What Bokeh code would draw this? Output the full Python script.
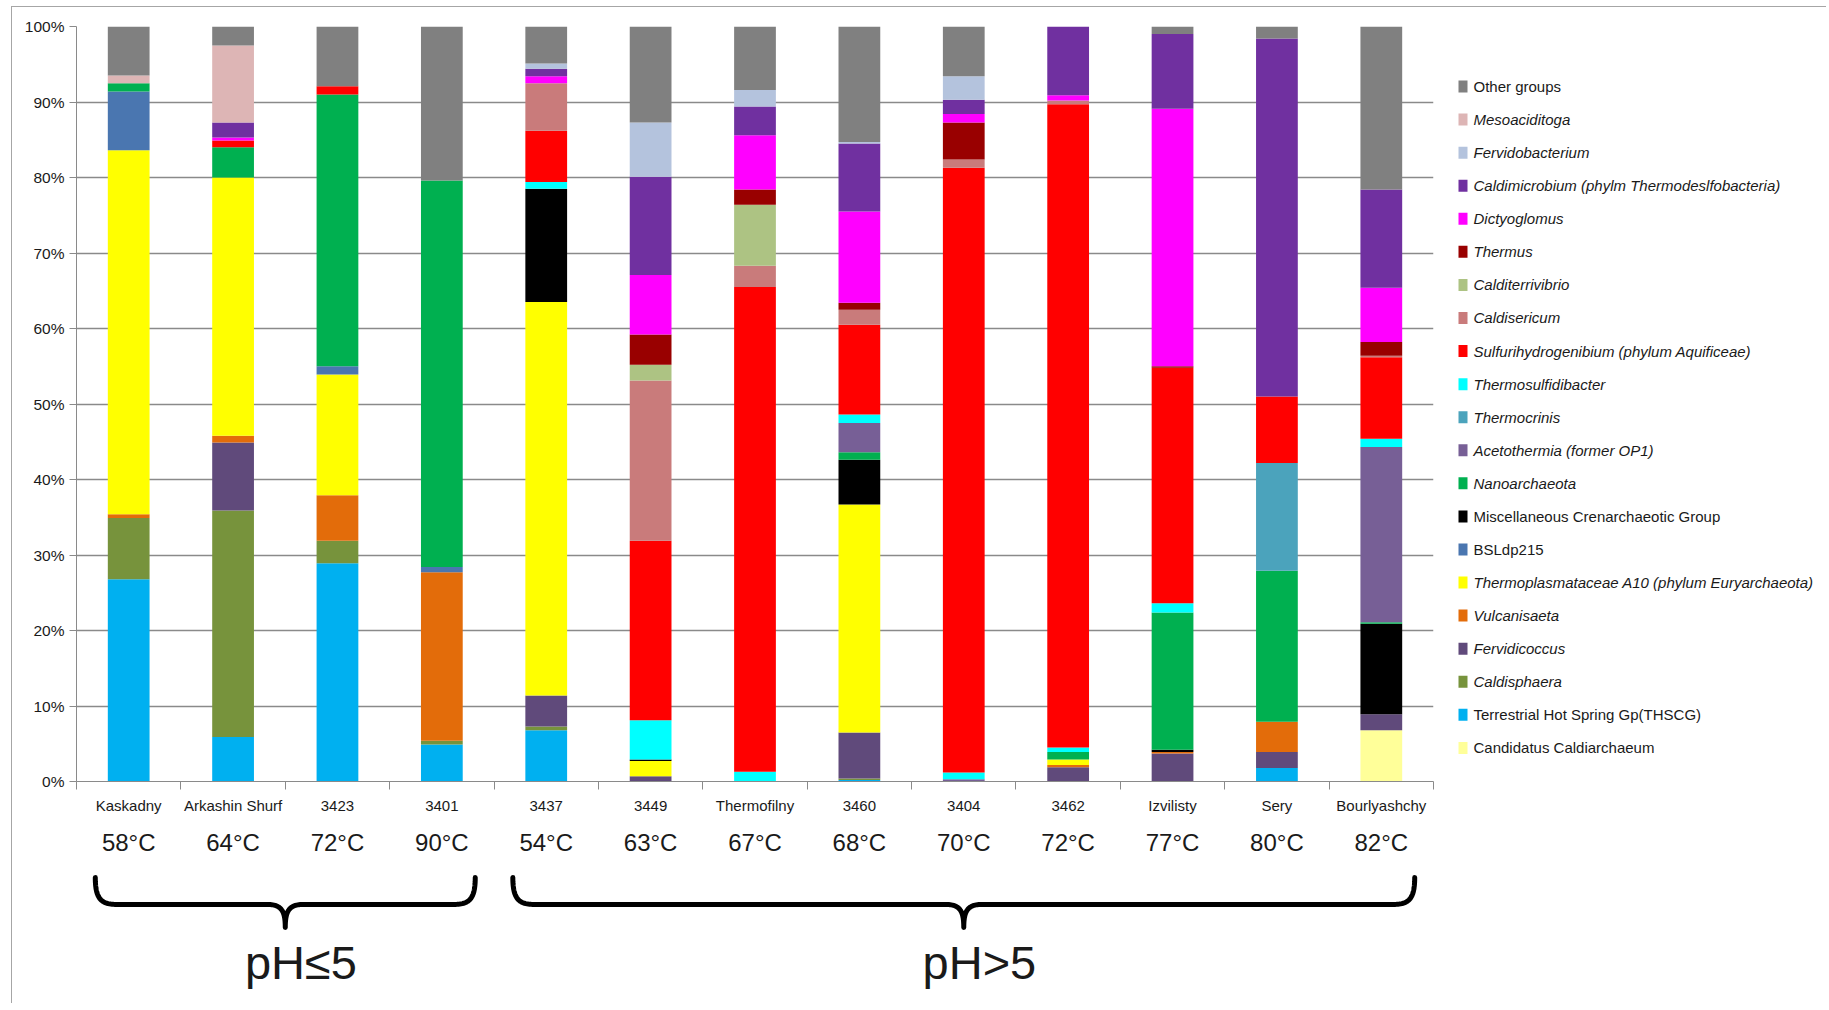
import numpy as np
from bokeh.plotting import figure
from bokeh.models import (Range1d, LinearAxis, FixedTicker,
                          PrintfTickFormatter, ColumnDataSource, Grid)
from bokeh.layouts import row, column
from bokeh.embed import file_html
from bokeh.resources import INLINE
from bokeh.core.properties import value

# ---------------- data ----------------
samples = ["Kaskadny", "Arkashin Shurf", "3423", "3401", "3437", "3449", "Thermofilny",
           "3460", "3404", "3462", "Izvilisty", "Sery", "Bourlyashchy"]
temps = ["58°C", "64°C", "72°C", "90°C", "54°C", "63°C", "67°C", "68°C", "70°C",
         "72°C", "77°C", "80°C", "82°C"]
groups = ["pH≤5", "pH>5"]
group_sizes = [4, 9]

candidatus = [0, 0, 0, 0, 0, 0, 0, 0, 0, 0, 0, 0, 6.8]
thscg = [26.8, 5.9, 28.9, 4.9, 6.8, 0, 0, 0.2, 0, 0, 0, 1.8, 0]
caldisphaera = [8.1, 30.0, 3.0, 0.5, 0.5, 0, 0, 0.2, 0, 0, 0, 0, 0]
fervidicoccus = [0, 9.0, 0, 0, 4.1, 0.7, 0, 6.1, 0, 1.9, 3.7, 2.1, 2.1]
vulcanisaeta = [0.5, 0.9, 6.0, 22.3, 0, 0, 0, 0, 0, 0.3, 0.2, 4.0, 0]
thermoplasma_a10 = [48.2, 34.2, 16.0, 0, 52.1, 2.0, 0, 30.2, 0, 0.7, 0, 0, 0]
bsldp215 = [7.8, 0, 1.1, 0.7, 0, 0, 0, 0, 0, 0, 0, 0, 0]
mcg = [0, 0, 0, 0, 15.0, 0.2, 0, 5.9, 0, 0, 0.3, 0, 12.0]
nanoarchaeota = [1.1, 4.0, 36.0, 51.2, 0, 0, 0, 1.0, 0, 1.0, 18.2, 20.0, 0.2]
acetothermia = [0, 0, 0, 0, 0, 0, 0, 3.9, 0.3, 0, 0, 0, 23.2]
thermocrinis = [0, 0, 0, 0, 0, 0, 0, 0, 0, 0, 0, 14.3, 0]
thermosulfidibacter = [0, 0, 0, 0, 0.9, 5.2, 1.3, 1.1, 0.9, 0.6, 1.2, 0, 1.1]
sulfurihydrogenibium = [0, 0.9, 1.1, 0, 6.8, 23.8, 64.2, 11.9, 80.1, 85.2, 31.2, 8.8, 10.8]
caldisericum = [0, 0, 0, 0, 6.3, 21.2, 2.8, 2.0, 1.1, 0.5, 0, 0, 0.2]
calditerrivibrio = [0, 0, 0, 0, 0, 2.1, 8.1, 0, 0, 0, 0, 0, 0]
thermus = [0, 0, 0, 0, 0, 4.0, 2.0, 0.9, 4.9, 0, 0.2, 0, 1.8]
dictyoglomus = [0, 0.4, 0, 0, 0.9, 7.9, 7.2, 12.1, 1.1, 0.7, 34.1, 0, 7.2]
caldimicrobium = [0, 2.0, 0, 0, 1.0, 13.0, 3.8, 9.0, 1.9, 9.1, 9.9, 47.4, 13.0]
fervidobacterium = [0, 0, 0, 0, 0.7, 7.2, 2.2, 0.2, 3.1, 0, 0, 0, 0]
mesoaciditoga = [1.0, 10.2, 0, 0, 0, 0, 0, 0, 0, 0, 0, 0, 0]
other_groups = [6.5, 2.5, 7.9, 20.4, 4.9, 12.7, 8.4, 15.3, 6.6, 0, 1.0, 1.6, 21.6]

# stacking order: bottom -> top  (label, values, colour, italic)
series = [
    ("Candidatus Caldiarchaeum", candidatus, "#FFFF99", False),
    ("Terrestrial Hot Spring Gp(THSCG)", thscg, "#00B0F0", False),
    ("Caldisphaera", caldisphaera, "#77933C", True),
    ("Fervidicoccus", fervidicoccus, "#604A7B", True),
    ("Vulcanisaeta", vulcanisaeta, "#E36C0A", True),
    ("Thermoplasmataceae A10 (phylum Euryarchaeota)", thermoplasma_a10, "#FFFF00", True),
    ("BSLdp215", bsldp215, "#4A76B0", False),
    ("Miscellaneous Crenarchaeotic Group", mcg, "#000000", False),
    ("Nanoarchaeota", nanoarchaeota, "#00B050", True),
    ("Acetothermia (former OP1)", acetothermia, "#775F96", True),
    ("Thermocrinis", thermocrinis, "#4BA3BC", True),
    ("Thermosulfidibacter", thermosulfidibacter, "#00FFFF", True),
    ("Sulfurihydrogenibium (phylum Aquificeae)", sulfurihydrogenibium, "#FF0000", True),
    ("Caldisericum", caldisericum, "#C97B7B", True),
    ("Calditerrivibrio", calditerrivibrio, "#ADC383", True),
    ("Thermus", thermus, "#990000", True),
    ("Dictyoglomus", dictyoglomus, "#FF00FF", True),
    ("Caldimicrobium (phylm Thermodeslfobacteria)", caldimicrobium, "#7030A0", True),
    ("Fervidobacterium", fervidobacterium, "#B4C3DD", True),
    ("Mesoaciditoga", mesoaciditoga, "#DDB5B5", True),
    ("Other groups", other_groups, "#808080", False),
]

FONT = "Liberation Sans"
AX = "#8a8a8a"
TXT = "#1a1a1a"
N = len(samples)
centers = [i + 0.5 for i in range(N)]

# ---------------- main chart ----------------
keys = [f"s{i}" for i in range(len(series))]
data = {"x": centers, "sample": samples}
for k, s in zip(keys, series):
    data[k] = s[1]
src = ColumnDataSource(data)

p = figure(x_range=Range1d(0, N), y_range=Range1d(0, 100),
           frame_width=1357, frame_height=755, min_border_left=64, min_border_right=8,
           min_border_top=19, min_border_bottom=82,
           x_axis_location=None, y_axis_location=None,
           output_backend="svg", toolbar_location=None)
p.outline_line_color = None
p.grid.visible = False

yticker = FixedTicker(ticks=list(range(0, 101, 10)))
p.add_layout(Grid(dimension=1, ticker=yticker, grid_line_color=AX, grid_line_width=1.3))
yaxis = LinearAxis(ticker=yticker, formatter=PrintfTickFormatter(format="%d%%"),
                   axis_line_color=AX, major_tick_line_color=AX, major_tick_out=7,
                   major_tick_in=0, minor_tick_line_color=None, major_label_standoff=5,
                   major_label_text_font=FONT, major_label_text_font_size="15.5px",
                   major_label_text_color=TXT)
p.add_layout(yaxis, "left")

p.vbar_stack(keys, x="x", width=0.4, source=src,
             fill_color=[s[2] for s in series], line_color=None)

name_axis = LinearAxis(ticker=FixedTicker(ticks=centers, minor_ticks=list(range(N + 1))),
                       major_label_overrides={c: s for c, s in zip(centers, samples)},
                       axis_line_color=AX, major_tick_line_color=None, major_tick_out=8,
                       major_tick_in=0, minor_tick_line_color=AX, minor_tick_out=8,
                       minor_tick_in=0, major_label_standoff=7,
                       major_label_text_font=FONT, major_label_text_font_size="15px",
                       major_label_text_color=TXT)
p.add_layout(name_axis, "below")

temp_axis = LinearAxis(ticker=FixedTicker(ticks=centers),
                       major_label_overrides={c: t for c, t in zip(centers, temps)},
                       axis_line_color=None, major_tick_line_color=None,
                       minor_tick_line_color=None, major_tick_out=0, major_tick_in=0,
                       major_label_standoff=12,
                       major_label_text_font=FONT, major_label_text_font_size="24px",
                       major_label_text_color=TXT)
p.add_layout(temp_axis, "below")

# ---------------- braces + pH labels ----------------
BH = 140
b = figure(x_range=Range1d(0, N), y_range=Range1d(BH, 0),
           frame_width=1357, frame_height=BH, min_border_left=64, min_border_right=8,
           min_border_top=0, min_border_bottom=0,
           x_axis_location=None, y_axis_location=None,
           output_backend="svg", toolbar_location=None)
b.outline_line_color = None
b.grid.visible = False


def cubic(p0, p1, p2, p3, n=30):
    t = np.linspace(0, 1, n)[:, None]
    pts = ((1 - t) ** 3) * np.array(p0) + 3 * ((1 - t) ** 2) * t * np.array(p1) \
        + 3 * (1 - t) * t ** 2 * np.array(p2) + t ** 3 * np.array(p3)
    return pts


def brace(x0, x1, ytop, ymid, ybot, hook=0.22, tip=0.17):
    xm = (x0 + x1) / 2
    segs = [
        cubic((x0, ytop), (x0, ymid - 4), (x0 + hook * 0.3, ymid), (x0 + hook, ymid)),
        cubic((x0 + hook, ymid), (x0 + hook, ymid), (xm - tip, ymid), (xm - tip, ymid), 2),
        cubic((xm - tip, ymid), (xm - tip * 0.2, ymid), (xm, ymid + (ybot - ymid) * 0.3), (xm, ybot)),
        cubic((xm, ybot), (xm, ymid + (ybot - ymid) * 0.3), (xm + tip * 0.2, ymid), (xm + tip, ymid)),
        cubic((xm + tip, ymid), (xm + tip, ymid), (x1 - hook, ymid), (x1 - hook, ymid), 2),
        cubic((x1 - hook, ymid), (x1 - hook * 0.3, ymid), (x1, ymid - 4), (x1, ytop)),
    ]
    pts = np.vstack(segs)
    return pts[:, 0], pts[:, 1]


start = 0
for g, n in zip(groups, group_sizes):
    x0, x1 = start + 0.18, start + n - 0.18
    bx, by = brace(x0, x1, 14, 41, 64)
    b.line(bx, by, line_width=5, line_color="black", line_cap="round", line_join="round")
    b.text(x=[start + n / 2 + 0.15], y=[99], text=[g], text_font=value(FONT),
           text_font_size="47px", text_align="center", text_baseline="middle",
           text_color=TXT)
    start += n

# ---------------- legend ----------------
LW, LH = 385, 856 + BH
L = figure(x_range=Range1d(0, LW), y_range=Range1d(LH, 0), width=LW, height=LH,
           min_border=0, x_axis_location=None, y_axis_location=None,
           output_backend="svg", toolbar_location=None)
L.outline_line_color = None
L.grid.visible = False
leg = list(reversed(series))
idx = np.arange(len(leg))
lsrc = ColumnDataSource(dict(
    y=79 + idx * 33.07,
    label=[s[0] for s in leg],
    color=[s[2] for s in leg],
    style=["italic" if s[3] else "normal" for s in leg],
))
L.rect(x=21.5, y="y", width=9, height=12, fill_color="color", line_color=None, source=lsrc)
L.text(x=32, y="y", text="label", text_font=value(FONT), text_font_size="15px",
       text_font_style="style", text_baseline="middle", text_color=TXT, source=lsrc)

layout = row(column(p, b), L, margin=(6, 0, 0, 11),
             styles={"border-left": "1px solid #a6a6a6", "border-top": "1px solid #a6a6a6"})

open("out.html", "w").write(file_html(layout, INLINE))
